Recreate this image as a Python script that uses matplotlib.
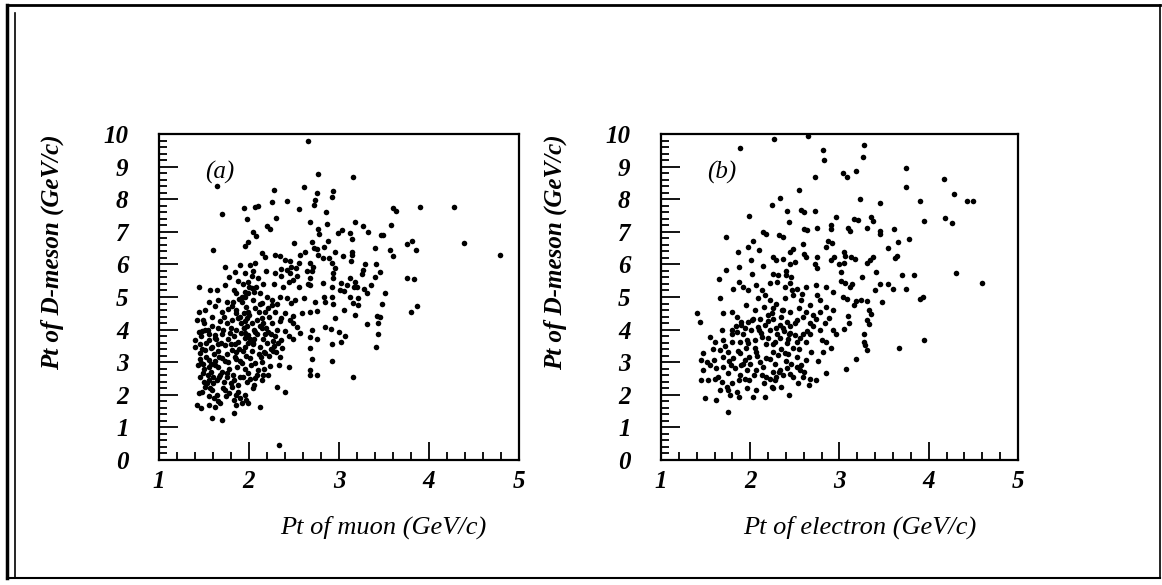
import matplotlib
matplotlib.use("Agg")
import matplotlib.pyplot as plt
from matplotlib.lines import Line2D
from matplotlib.ticker import MultipleLocator

plt.rcParams['font.family'] = ['Liberation Serif', 'DejaVu Serif']

# panel (a): Pt of muon vs Pt of D-meson (GeV/c)
muon_pt = [
    # sparse upper part
    2.66, 1.64, 2.28, 2.61, 2.42, 2.26, 2.07, 2.10, 1.94, 2.56, 1.70, 1.98, 2.30,
    2.20, 2.23, 2.05, 2.08, 2.50, 2.57, 2.62, 2.44, 2.33,
    # dense core
    1.99, 1.96, 1.60, 2.14, 2.18, 2.29, 2.34, 2.40, 2.46, 2.47, 2.42, 2.07, 2.01,
    1.90, 1.73, 1.84, 1.96, 2.03, 2.10, 1.99, 2.29, 2.36, 2.46, 2.49,
    1.44, 1.57, 1.64, 1.73, 1.83, 1.86, 1.75, 1.66, 1.55, 1.44, 1.42, 1.51, 1.62,
    1.70, 1.81, 1.86, 1.92, 1.99, 2.03, 2.12, 2.20, 2.25, 2.34, 2.42, 2.47, 2.14,
    2.21, 2.07, 1.99, 2.29, 2.40, 2.46, 2.49, 1.49, 1.59, 1.68, 1.81, 1.90, 1.96,
    2.03, 2.14, 2.25, 2.34,
    1.40, 1.40, 1.44, 1.47, 1.51, 1.55, 1.62, 1.71, 1.79, 1.86, 1.94, 1.99, 2.07,
    2.14, 2.21, 2.29, 2.36, 2.44, 1.46, 1.51, 1.59, 1.66, 1.73, 1.81, 1.88, 1.96,
    2.05, 2.12, 2.18, 2.27, 2.34, 1.47, 1.55, 1.62, 1.70, 1.77, 1.84, 1.92, 2.01,
    2.07, 2.14, 2.23, 2.33,
    1.49, 1.55, 1.60, 1.68, 1.75, 1.83, 1.90, 1.99, 2.07, 2.14, 2.21, 2.31, 2.40,
    1.51, 1.59, 1.64, 1.73, 1.81, 1.88, 1.96, 2.05, 1.44, 1.42, 1.47, 1.55, 1.62,
    1.68, 1.83, 1.86, 1.92, 1.99, 2.12, 1.83, 1.59, 1.70,
    1.93, 1.95, 1.92, 1.97, 1.94, 1.98, 1.91, 1.95, 1.99, 1.93, 1.97, 1.90, 1.95,
    1.98, 1.45, 1.48, 1.52, 1.56, 1.50, 1.46, 1.53, 1.58, 1.61, 1.64, 1.57, 1.48,
    1.66, 1.69, 1.63, 1.55, 1.59, 1.65, 1.72, 1.77, 1.80, 1.83, 1.76, 1.85, 1.87,
    1.78, 1.72, 1.80, 1.85, 1.74, 2.03, 2.06, 2.09, 2.11, 2.16, 2.18, 2.20, 2.24,
    2.27, 2.31, 2.10, 2.17, 2.02, 2.06, 2.13, 2.22, 2.26, 2.04, 2.08, 2.15, 2.19,
    2.05, 1.88, 1.78,
    2.53, 2.61, 2.64, 2.59, 2.51, 2.56, 2.65, 2.49, 2.53, 2.57, 2.49,
    # right-hand tail
    2.77, 3.15, 2.76, 2.73, 2.72, 2.93, 2.92, 2.86, 2.68, 3.18, 3.27, 3.32, 2.87,
    2.77, 2.78, 3.03, 2.99, 3.12, 3.14, 3.60, 3.63, 3.90, 4.28, 3.58, 3.47, 3.49,
    2.88, 2.70, 2.72, 2.75, 2.83, 2.96, 3.04, 3.14, 3.14, 3.13, 3.40, 3.57, 3.60,
    3.75, 3.81, 3.86, 4.39, 2.77, 2.82, 2.89, 2.92, 2.68, 2.71, 2.70, 2.96, 3.29,
    3.27, 3.26, 3.41, 3.46, 3.40, 2.93, 2.93, 2.68, 3.12, 3.02, 3.09, 3.18, 3.20,
    3.17, 2.82, 2.68, 3.01, 3.05, 2.92, 3.28, 3.36, 3.31, 3.51, 3.75, 3.83, 3.12,
    3.21, 2.83, 2.84, 2.73, 2.92, 3.16, 3.21, 2.93, 3.48, 3.06, 2.75, 2.68, 3.18,
    3.42, 3.45, 2.96, 3.31, 3.43, 3.87, 3.80, 2.70, 2.84, 2.91, 3.00, 3.07, 2.76,
    3.02, 2.68, 2.92, 3.43, 3.41, 2.68, 2.70, 2.92, 2.68, 2.75, 2.68, 3.15, 4.79,
]
dmeson_pt_a = [
    9.79, 8.42, 8.29, 8.37, 7.96, 7.91, 7.76, 7.78, 7.72, 7.70, 7.56, 7.39, 7.41,
    7.17, 7.10, 7.00, 6.88, 6.67, 6.29, 6.37, 2.85, 0.47,
    6.70, 6.57, 6.44, 6.34, 6.24, 6.29, 6.26, 6.12, 6.09, 5.93, 5.83, 6.03, 5.98,
    5.98, 5.93, 5.78, 5.73, 5.63, 5.57, 5.47, 5.73, 5.63, 5.73, 5.52,
    5.32, 5.22, 5.22, 5.37, 5.22, 5.11, 4.86, 4.91, 4.86, 4.55, 4.30, 4.60, 4.71,
    4.55, 4.71, 4.60, 5.01, 5.11, 5.27, 5.11, 5.01, 4.91, 5.01, 4.96, 4.81, 4.81,
    4.65, 4.65, 4.55, 4.55, 4.50, 4.30, 4.19, 4.30, 4.40, 4.25, 4.30, 4.40, 4.25,
    4.19, 4.35, 4.19, 4.25,
    3.48, 3.68, 3.94, 3.79, 3.99, 3.68, 3.84, 3.99, 3.89, 3.99, 4.04, 3.84, 3.94,
    4.04, 3.94, 3.79, 3.68, 3.79, 3.27, 3.38, 3.48, 3.33, 3.53, 3.38, 3.63, 3.48,
    3.58, 3.48, 3.27, 3.33, 3.17, 2.97, 3.07, 2.92, 3.12, 3.02, 3.17, 2.97, 3.12,
    2.97, 3.02, 2.87, 2.92,
    2.66, 2.46, 2.56, 2.61, 2.66, 2.46, 2.56, 2.66, 2.51, 2.46, 2.61, 2.25, 2.10,
    2.25, 2.15, 2.00, 2.15, 2.25, 2.10, 2.00, 2.20, 2.05, 1.69, 1.59, 1.69, 1.64,
    1.74, 1.84, 1.69, 1.74, 1.74, 1.64, 1.43, 1.28, 1.23,
    5.40, 5.15, 4.85, 4.70, 4.50, 4.10, 3.90, 3.75, 3.60, 3.35, 3.20, 3.05, 2.80,
    2.40, 3.55, 3.40, 3.15, 2.85, 2.80, 2.55, 2.35, 2.70, 3.25, 2.45, 2.20, 2.10,
    2.85, 3.60, 3.70, 3.85, 4.10, 4.05, 4.40, 4.62, 4.05, 3.80, 3.25, 3.30, 2.85,
    2.80, 2.40, 2.35, 2.00, 1.95, 3.35, 3.70, 4.30, 4.55, 4.20, 3.85, 3.60, 3.40,
    3.65, 4.00, 2.75, 2.80, 2.90, 2.30, 3.15, 4.40, 4.75, 4.90, 5.30, 5.40, 5.80,
    5.80, 5.50, 5.60,
    5.65, 4.97, 5.80, 4.52, 4.92, 5.30, 5.40, 4.42, 4.07, 3.91, 3.71,
    8.77, 8.67, 8.18, 7.98, 7.82, 8.25, 8.08, 7.60, 7.31, 7.29, 7.18, 7.00, 7.23,
    7.08, 6.93, 7.06, 6.97, 6.97, 6.78, 7.72, 7.65, 7.77, 7.77, 7.21, 6.90, 6.90,
    6.72, 6.70, 6.49, 6.46, 6.54, 6.39, 6.26, 6.39, 6.29, 6.11, 6.49, 6.44, 6.26,
    6.62, 6.72, 6.44, 6.65, 6.29, 6.19, 6.19, 6.05, 6.03, 5.93, 5.81, 5.88, 6.00,
    5.83, 5.71, 6.00, 5.78, 5.62, 5.73, 5.59, 5.57, 5.57, 5.44, 5.37, 5.47, 5.32,
    5.30, 5.42, 5.37, 5.22, 5.18, 5.32, 5.24, 5.37, 5.11, 5.13, 5.57, 5.54, 5.01,
    4.96, 4.99, 4.86, 4.86, 5.01, 4.83, 4.76, 4.79, 4.79, 4.60, 4.57, 4.55, 4.45,
    4.42, 4.40, 4.37, 4.18, 4.19, 4.72, 4.53, 3.99, 4.09, 4.01, 3.94, 3.80, 3.70,
    3.63, 3.78, 3.56, 3.88, 3.48, 3.43, 3.09, 3.05, 2.76, 2.61, 2.61, 2.54, 6.29,
]
# more points filling the black core of (a)
muon_pt_core = [
    1.52, 1.58, 1.62, 1.67, 1.70, 1.73, 1.77, 1.80, 1.84, 1.86, 1.89, 1.91, 1.94,
    1.96, 1.98, 2.00, 2.01, 2.04, 2.06, 2.09, 2.11, 2.15, 2.17, 2.19, 2.22, 2.24,
    2.28, 2.30, 2.32, 2.12, 1.88, 1.85, 1.82, 1.89, 1.95, 2.00, 2.06, 2.12, 2.18,
    1.75, 1.70, 1.66, 1.62, 1.58, 1.54, 1.50, 1.60, 1.67, 1.71, 1.76, 1.82, 1.88,
    1.93, 2.01, 2.09, 2.16, 1.54, 1.48, 1.50, 1.45, 1.43, 1.49, 1.61, 1.66, 1.55,
    1.78, 1.90, 1.97, 2.37, 2.40, 2.36, 2.31, 2.38, 2.44, 2.52, 2.35, 2.28, 2.55,
]
dmeson_pt_a_core = [
    3.60, 3.45, 3.05, 3.15, 2.70, 3.05, 3.70, 3.55, 3.55, 3.10, 3.40, 4.20, 4.05,
    3.90, 4.35, 4.45, 3.70, 3.55, 4.00, 3.85, 3.25, 3.70, 3.30, 4.05, 3.20, 3.85,
    3.50, 3.30, 3.60, 4.10, 4.35, 4.50, 4.85, 4.95, 5.00, 5.30, 5.15, 4.80, 4.55,
    4.20, 3.85, 3.55, 3.75, 2.95, 2.60, 2.40, 2.35, 2.55, 2.20, 2.55, 2.60, 2.30,
    2.55, 2.50, 2.60, 2.60, 4.00, 3.95, 4.20, 3.10, 2.90, 2.95, 1.90, 1.80, 1.95,
    2.05, 1.90, 1.85, 3.45, 3.95, 4.35, 4.80, 5.30, 5.45, 5.90, 5.85, 5.40, 6.05,
]

# panel (b): Pt of electron vs Pt of D-meson (GeV/c)
electron_pt = [
    # sparse upper and right part
    2.27, 2.65, 1.88, 2.81, 2.83, 3.27, 3.26, 3.75, 3.04, 3.08, 3.18, 2.73, 4.17,
    3.75, 2.55, 2.33, 4.28, 3.23, 3.90, 4.43, 4.50, 3.45, 2.24, 2.41, 2.57, 2.60,
    2.73, 1.99, 2.96, 3.16, 3.21, 3.35, 3.38, 3.95, 4.18, 4.26, 2.43, 2.91, 2.90,
    2.60, 2.64, 2.75, 3.10, 3.12, 3.31, 3.45, 3.45, 3.61, 2.14, 2.18, 1.73, 2.32,
    2.37, 3.78, 2.03, 2.59, 2.87, 2.92, 2.85, 3.65, 1.98, 2.10, 2.48, 2.45, 3.54,
    1.86, 3.05, 3.06, 2.25, 2.29, 2.60, 2.62, 2.75, 2.94, 2.91, 3.13, 3.17, 3.37,
    3.34, 3.64, 3.62, 2.01, 2.37, 2.50, 2.44, 2.72, 2.75, 2.14, 1.73, 1.87, 3.05,
    3.00, 3.02, 3.31, 2.26, 2.31, 2.40, 2.40, 2.02, 3.41, 3.70, 3.83, 4.31, 4.60,
    1.65, 3.25,
    3.54, 3.45, 3.02, 3.06, 3.14, 3.12, 3.60, 3.75, 3.40, 3.04, 3.08, 3.18, 3.24,
    3.31, 3.48, 3.93, 3.90, 3.16, 3.33, 3.35, 3.31, 3.33, 3.10, 3.11, 3.05, 3.95,
    3.67, 3.27, 3.27, 3.29, 3.31, 3.18, 3.07,
    # dense core
    1.87, 1.92, 1.98, 1.81, 2.07, 2.13, 2.22, 2.30, 2.39, 2.44, 2.52, 2.63, 2.74,
    2.85, 2.93, 1.66, 2.09, 2.16, 2.22, 2.29, 2.39, 2.48, 2.57, 2.67, 2.78, 2.85,
    2.93, 2.26, 2.37, 2.15, 2.05,
    1.40, 1.44, 1.70, 1.79, 1.85, 1.90, 1.98, 2.03, 2.11, 2.20, 2.26, 2.35, 2.41,
    2.52, 2.59, 2.67, 2.74, 2.84, 2.93, 1.79, 1.85, 1.94, 2.01, 2.09, 2.16, 2.22,
    2.29, 2.37, 2.43, 2.50, 2.59, 2.67, 2.78, 1.55, 1.60, 1.70, 1.79, 1.88, 1.96,
    2.05, 2.13, 2.20, 2.28, 2.33, 2.41, 2.52, 2.63, 2.80, 2.85,
    1.47, 1.45, 1.51, 1.59, 1.66, 1.70, 1.75, 1.81, 1.88, 1.94, 1.99, 2.07, 2.11,
    2.18, 2.26, 2.31, 2.39, 2.52, 2.57, 2.63, 2.82, 1.47, 1.55, 1.62, 1.70, 1.75,
    1.83, 1.90, 1.96, 2.07, 2.18, 2.26, 2.33, 2.41, 2.46, 2.56, 2.74, 2.85,
    1.45, 1.53, 1.60, 1.68, 1.74, 1.79, 1.87, 1.94, 1.99, 2.13, 2.22, 2.29, 2.37,
    2.59, 2.67, 1.66, 1.75, 1.85, 1.96, 2.07, 2.24, 2.35, 2.43, 1.49, 1.62, 1.77,
    1.87, 2.03, 2.16, 2.26, 1.75,
    2.33, 2.38, 2.45, 2.30, 2.42, 2.25, 2.35, 2.48, 2.20, 2.12, 1.92, 1.84, 1.95,
    2.05, 2.28, 2.45, 2.52, 2.55, 2.62, 2.70, 2.55, 2.45, 1.78, 1.88, 2.00, 2.15,
    2.58, 2.47, 2.75, 1.95,
    1.72, 1.80, 1.90, 2.02, 2.10, 2.18, 2.24, 2.36, 2.44, 2.50, 2.56, 2.64, 2.70,
    2.78, 2.88, 2.96, 1.86, 1.98, 2.08, 2.22, 2.32, 2.40, 2.48, 2.60, 2.68, 2.76,
    1.64, 1.76, 1.92, 2.04, 2.14, 2.28, 2.42, 2.54, 2.66, 2.90, 1.58, 1.68, 2.46,
]
dmeson_pt_b = [
    9.84, 9.95, 9.56, 9.51, 9.19, 9.65, 9.28, 8.97, 8.79, 8.69, 8.87, 8.69, 8.62,
    8.38, 8.28, 8.05, 8.15, 8.02, 7.95, 7.93, 7.93, 7.88, 7.83, 7.63, 7.67, 7.61,
    7.63, 7.49, 7.44, 7.39, 7.37, 7.46, 7.34, 7.34, 7.42, 7.26, 7.29, 7.21, 7.08,
    7.08, 7.05, 7.12, 7.12, 7.03, 7.11, 7.03, 6.93, 7.08, 6.98, 6.93, 6.83, 6.91,
    6.83, 6.78, 6.73, 6.63, 6.71, 6.65, 6.52, 6.70, 6.52, 6.45, 6.47, 6.37, 6.49,
    6.37, 6.37, 6.27, 6.22, 6.12, 6.32, 6.22, 6.22, 6.22, 6.12, 6.24, 6.17, 6.22,
    6.14, 6.27, 6.20, 6.14, 6.17, 6.07, 6.01, 6.00, 5.90, 5.96, 5.83, 5.91, 6.03,
    6.00, 5.76, 6.03, 5.71, 5.66, 5.79, 5.69, 5.71, 5.76, 5.68, 5.68, 5.73, 5.42,
    5.56, 5.61,
    5.40, 5.40, 5.48, 5.44, 5.40, 5.30, 5.25, 5.25, 5.20, 4.99, 4.94, 4.89, 4.91,
    4.89, 4.84, 4.99, 4.95, 4.74, 4.59, 4.49, 4.28, 4.18, 4.43, 4.20, 4.03, 3.67,
    3.45, 3.87, 3.62, 3.52, 3.36, 3.11, 2.80,
    5.47, 5.32, 5.21, 5.26, 5.37, 5.21, 5.42, 5.47, 5.32, 5.42, 5.26, 5.32, 5.37,
    5.32, 5.16, 4.96, 4.96, 5.06, 4.91, 4.80, 4.96, 5.06, 4.91, 4.75, 4.91, 4.70,
    4.60, 4.65, 4.60, 4.70, 4.60,
    4.50, 4.24, 4.50, 4.55, 4.40, 4.24, 4.24, 4.34, 4.34, 4.45, 4.34, 4.40, 4.24,
    4.29, 4.40, 4.19, 4.34, 4.19, 3.99, 3.99, 3.94, 4.04, 3.99, 4.09, 4.14, 3.99,
    4.04, 4.04, 3.88, 3.83, 3.88, 3.88, 3.99, 3.78, 3.63, 3.68, 3.63, 3.63, 3.68,
    3.68, 3.78, 3.73, 3.63, 3.73, 3.58, 3.63, 3.63, 3.68, 3.63,
    3.27, 3.07, 3.02, 3.07, 3.37, 3.17, 3.32, 3.12, 3.27, 3.07, 3.17, 3.32, 3.02,
    3.12, 3.32, 3.22, 3.27, 3.17, 2.91, 3.07, 3.32, 2.76, 2.91, 2.81, 2.86, 2.66,
    2.81, 2.91, 2.76, 2.76, 2.56, 2.71, 2.76, 2.81, 2.96, 2.76, 2.45, 2.66,
    2.45, 2.45, 2.50, 2.40, 2.25, 2.35, 2.45, 2.50, 2.45, 2.61, 2.50, 2.56, 2.61,
    2.56, 2.50, 2.15, 2.15, 2.10, 2.20, 2.15, 2.25, 2.25, 1.99, 1.89, 1.84, 1.99,
    1.94, 1.94, 1.94, 2.20, 1.48,
    4.15, 3.95, 4.10, 3.85, 3.70, 3.55, 3.40, 3.45, 4.25, 3.90, 3.85, 4.10, 3.45,
    3.45, 2.95, 2.65, 2.85, 3.40, 4.55, 4.45, 4.65, 4.55, 2.90, 2.60, 2.95, 2.35,
    5.10, 5.20, 5.05, 4.75,
    3.50, 3.85, 4.15, 4.30, 4.00, 3.55, 4.50, 4.60, 3.90, 4.20, 3.75, 3.95, 4.10,
    4.55, 4.35, 3.85, 3.35, 3.60, 3.20, 3.10, 2.70, 3.05, 2.55, 2.70, 3.30, 3.05,
    2.55, 3.05, 2.95, 2.60, 2.85, 2.45, 3.25, 2.35, 2.30, 3.45, 3.40, 4.00, 5.60,
]

panels = [
    (muon_pt + muon_pt_core, dmeson_pt_a + dmeson_pt_a_core, "(a)",
     "Pt of muon (GeV/c)", 280),
    (electron_pt, dmeson_pt_b, "(b)", "Pt of electron (GeV/c)", 743),
]
ylab = "Pt of D-meson (GeV/c)"

fig = plt.figure(figsize=(11.62, 5.85), dpi=100)
boxes = [[159/1162, 125/585, 360/1162, 326/585],
         [661/1162, 125/585, 357/1162, 326/585]]

for box, (xs, ys, tag, xlab, xlab_left) in zip(boxes, panels):
    ax = fig.add_axes(box)
    ax.scatter(xs, ys, s=16, c="black", marker="o", linewidths=0)
    ax.set_xlim(1, 5)
    ax.set_ylim(0, 10)
    ax.xaxis.set_major_locator(MultipleLocator(1))
    ax.xaxis.set_minor_locator(MultipleLocator(0.2))
    ax.yaxis.set_major_locator(MultipleLocator(1))
    ax.yaxis.set_minor_locator(MultipleLocator(0.2))
    ax.tick_params(which="both", direction="in", top=False, right=False, width=1.3)
    ax.tick_params(axis="y", which="major", length=14, pad=22)
    ax.tick_params(axis="x", which="major", length=13, pad=7)
    ax.tick_params(which="minor", length=6)
    for lab in ax.get_xticklabels() + ax.get_yticklabels():
        lab.set_fontsize(18)
        lab.set_fontweight("bold")
        lab.set_fontstyle("italic")
    for sp in ax.spines.values():
        sp.set_linewidth(1.6)
    ax.text(0.169, 0.883, tag, transform=ax.transAxes, fontsize=18,
            style="italic", ha="center", va="center")
    # x title starts at a fixed page position, as in the scan
    fig.text(xlab_left / 1162, 1 - 527/585, xlab, fontsize=19,
             style="italic", ha="left", va="center")
    ax.text(-0.297, 1.0, ylab, transform=ax.transAxes, fontsize=18,
            style="italic", weight="bold", rotation=90, ha="center", va="top")

# scanned page frame
fig.add_artist(Line2D([0.006, 0.998], [1 - 5/585, 1 - 5/585], color="black", lw=2))
fig.add_artist(Line2D([0.006, 0.006], [1 - 5/585, 7/585], color="black", lw=2.5))
fig.add_artist(Line2D([15/1162, 15/1162], [1 - 13/585, 7/585], color="black", lw=1.2))
fig.add_artist(Line2D([0.998, 0.998], [1 - 5/585, 7/585], color="black", lw=1.2))
fig.add_artist(Line2D([0.006, 0.998], [7/585, 7/585], color="black", lw=1.5))

fig.savefig("out.png", dpi=100)
